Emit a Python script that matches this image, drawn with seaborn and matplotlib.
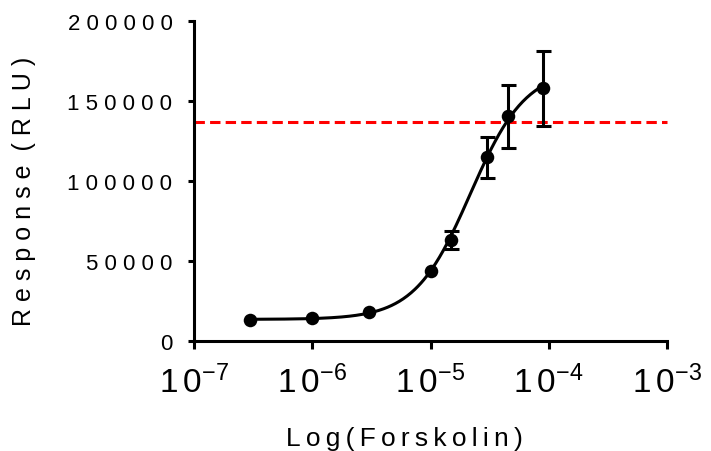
import numpy as np
import pandas as pd
import matplotlib
matplotlib.use("Agg")
import matplotlib.pyplot as plt
import seaborn as sns

# ---- data ----
concentration = [3e-7, 1e-6, 3e-6, 1e-5, 1.5e-5, 3e-5, 4.5e-5, 9e-5]
response = [13100, 14200, 18100, 43750, 62900, 114600, 140200, 157700]
response_err = [np.nan, np.nan, np.nan, np.nan, 5500, 13000, 19500, 23500]
threshold = 137000

# four-parameter logistic fit (parameters)
fit_bottom = 13500
fit_top = 170000
fit_log_ec50 = -4.664
fit_hill = 1.85

x_ticks = [1e-7, 1e-6, 1e-5, 1e-4, 1e-3]
x_tick_labels = [r"$\mathregular{1\,0^{-7}}$", r"$\mathregular{1\,0^{-6}}$",
                 r"$\mathregular{1\,0^{-5}}$", r"$\mathregular{1\,0^{-4}}$",
                 r"$\mathregular{1\,0^{-3}}$"]
y_ticks = [0, 50000, 100000, 150000, 200000]
y_tick_labels = ["0", "5 0 0 0 0", "1 0 0 0 0 0", "1 5 0 0 0 0", "2 0 0 0 0 0"]
x_label = "L\u2009o\u2009g\u2009(\u2009F\u2009o\u2009r\u2009s\u2009k\u2009o\u2009l\u2009i\u2009n\u2009)"
y_label = "R e s p o n s e  ( R L U )"

# ---- styling ----
sns.set_theme(style="ticks")
plt.rcParams["font.family"] = ["Liberation Sans", "DejaVu Sans"]
plt.rcParams["mathtext.fontset"] = "custom"
plt.rcParams["mathtext.rm"] = "Liberation Sans"

fig = plt.figure(figsize=(7.11, 4.52), dpi=100)
ax = fig.add_axes([194 / 711, 1 - 342 / 452, 473 / 711, 320.3 / 452])

df_pts = pd.DataFrame({"conc": concentration, "resp": response, "err": response_err})

log_grid = np.linspace(np.log10(concentration[0]), np.log10(concentration[-1]), 300)
fit_y = fit_bottom + (fit_top - fit_bottom) / (1 + 10 ** ((fit_log_ec50 - log_grid) * fit_hill))
df_fit = pd.DataFrame({"conc": 10 ** log_grid, "resp": fit_y})

ax.axhline(threshold, color="#ff0000", lw=2.2, dashes=(3.4, 1.7), zorder=1, clip_on=False)

sns.lineplot(data=df_fit, x="conc", y="resp", ax=ax, color="black", lw=2.2,
             zorder=3, clip_on=False)

mask = df_pts["err"].notna()
ax.errorbar(df_pts.loc[mask, "conc"], df_pts.loc[mask, "resp"], yerr=df_pts.loc[mask, "err"],
            fmt="none", ecolor="black", elinewidth=2.2, capsize=5.4, capthick=2.2,
            zorder=2, clip_on=False)

sns.scatterplot(data=df_pts, x="conc", y="resp", ax=ax, color="black", s=95,
                edgecolor="black", linewidth=0, zorder=4, clip_on=False)

ax.set_xscale("log")
ax.set_xlim(1e-7, 1e-3)
ax.set_ylim(0, 200000)
ax.set_xticks(x_ticks)
ax.set_xticklabels(x_tick_labels, fontsize=24)
ax.xaxis.set_minor_locator(matplotlib.ticker.NullLocator())
ax.set_yticks(y_ticks)
ax.set_yticklabels(y_tick_labels, fontsize=16)

for side in ["top", "right"]:
    ax.spines[side].set_visible(False)
for side in ["left", "bottom"]:
    ax.spines[side].set_linewidth(2.2)
    ax.spines[side].set_color("black")

ax.tick_params(axis="x", length=6, width=2.2, pad=11, colors="black")
ax.tick_params(axis="y", length=4.5, width=2.2, pad=11, colors="black")

ax.set_xlabel(x_label, fontsize=19, color="black")
ax.set_ylabel(y_label, fontsize=18, color="black")
ax.xaxis.set_label_coords(0.444, -0.265)
ax.yaxis.set_label_coords(-0.334, 0.47)

fig.savefig("out.png", dpi=100)
